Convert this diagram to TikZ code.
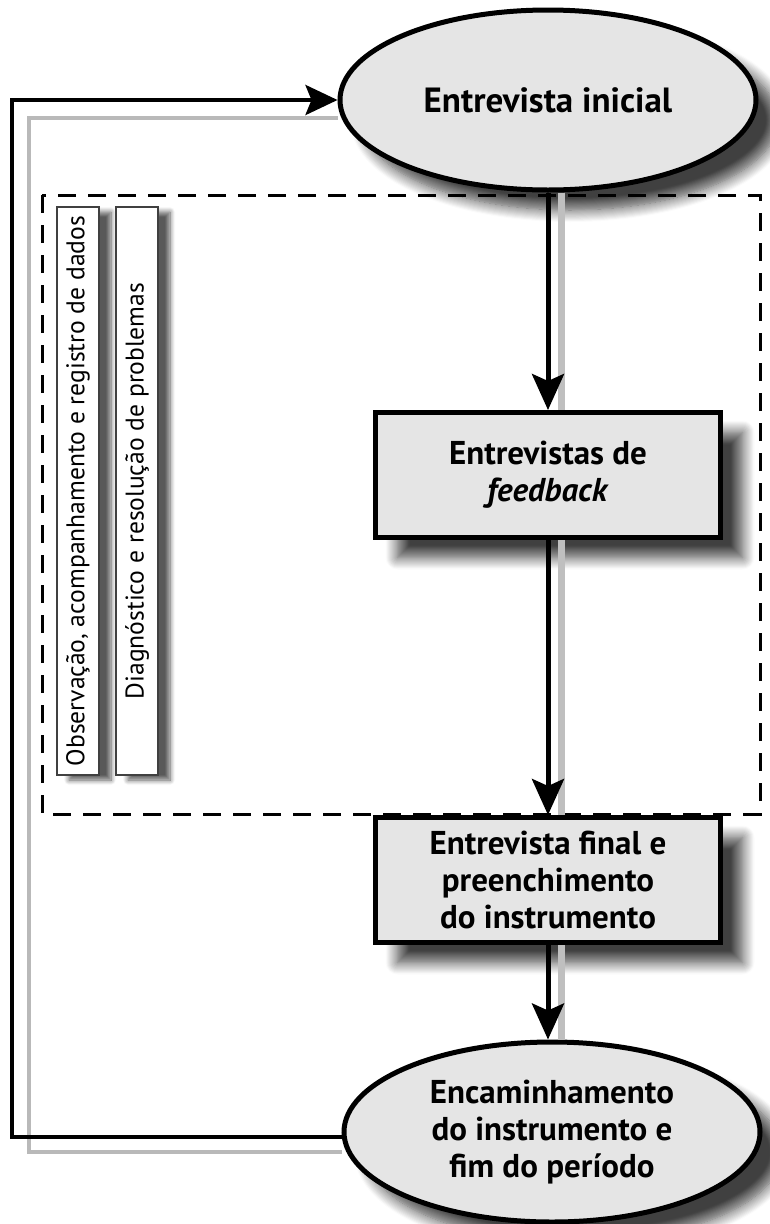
\documentclass[tikz,border=0pt]{standalone}
\usepackage{fontspec}
\setmainfont{PT Sans}
\usetikzlibrary{shapes.geometric,arrows.meta,shadows,shadows.blur,positioning}

\tikzset{%
  etapa/.style={draw=black, line width=5pt, fill=gray!20, align=center,
    font=\fontsize{33}{37}\selectfont\bfseries,
    blur shadow={shadow xshift=22pt, shadow yshift=-20pt, shadow blur radius=12pt,
      shadow blur steps=12, shadow opacity=75}},
  elipse/.style={etapa, ellipse, minimum width=416pt, minimum height=180pt, inner sep=0pt},
  caixa/.style={etapa, rectangle, minimum width=345pt, minimum height=125pt, inner sep=0pt},
  faixa/.style={draw=black!75, line width=1.2pt, fill=white, rotate=90,
    minimum width=568pt, minimum height=42pt, inner sep=0pt,
    font=\fontsize{25.6}{30}\selectfont,
    blur shadow={shadow xshift=12pt, shadow yshift=-5pt, shadow blur radius=5pt,
      shadow blur steps=8, shadow opacity=65}},
  seta/.style={line width=5pt, -{Stealth[length=36pt,width=32pt,inset=7pt]}},
  sombra/.style={gray!50, line width=7pt},
  tracejado/.style={line width=3pt, dash pattern=on 18pt off 12pt}
}

\begin{document}
\begin{tikzpicture}[x=1pt, y=-1pt]
  \useasboundingbox (0,0) rectangle (769,1224);

  % area tracejada
  \draw[tracejado] (42,195) rectangle (760,814);

  % faixas verticais
  \node[faixa] (obs) at (78,491) {Observação, acompanhamento e registro de dados};
  \node[faixa] (diag) at (137,491) {Diagnóstico e resolução de problemas};

  % etapas
  \node[elipse, font=\fontsize{35}{39}\selectfont\bfseries] (inicial) at (548,100) {Entrevista inicial};
  \node[caixa] (feedback) at (548,475) {Entrevistas de\\\textit{feedback}};
  \node[caixa] (final) at (548,880) {Entrevista final e\\preenchimento\\do instrumento};
  \node[elipse] (fim) at (552,1132) {Encaminhamento\\do instrumento e\\fim do período};

  \coordinate (canto) at (12,0);
  \coordinate (cantosombra) at (29,0);

  % sombras das setas
  \draw[sombra] ([xshift=13pt]inicial.south) -- ([xshift=13pt]feedback.north);
  \draw[sombra] ([xshift=13pt]feedback.south) -- ([xshift=13pt]final.north);
  \draw[sombra] ([xshift=13pt]final.south) -- ([xshift=13pt]final.south |- fim.north);
  \draw[gray!55, line width=3.5pt]
    ([yshift=-20pt]fim.west) -- ([yshift=-20pt]fim.west -| cantosombra)
    -- ([yshift=-18pt]inicial.west -| cantosombra) -- ([yshift=-18pt]inicial.west);

  % setas
  \draw[seta] (inicial.south) -- (feedback.north);
  \draw[seta] (feedback.south) -- (final.north);
  \draw[seta] (final.south) -- (final.south |- fim.north);
  \draw[seta, line width=4pt, -{Stealth[length=32pt,width=30pt,inset=6pt]}]
    ([yshift=-5pt]fim.west) -- ([yshift=-5pt]fim.west -| canto)
    -- (inicial.west -| canto) -- (inicial.west);
\end{tikzpicture}
\end{document}
